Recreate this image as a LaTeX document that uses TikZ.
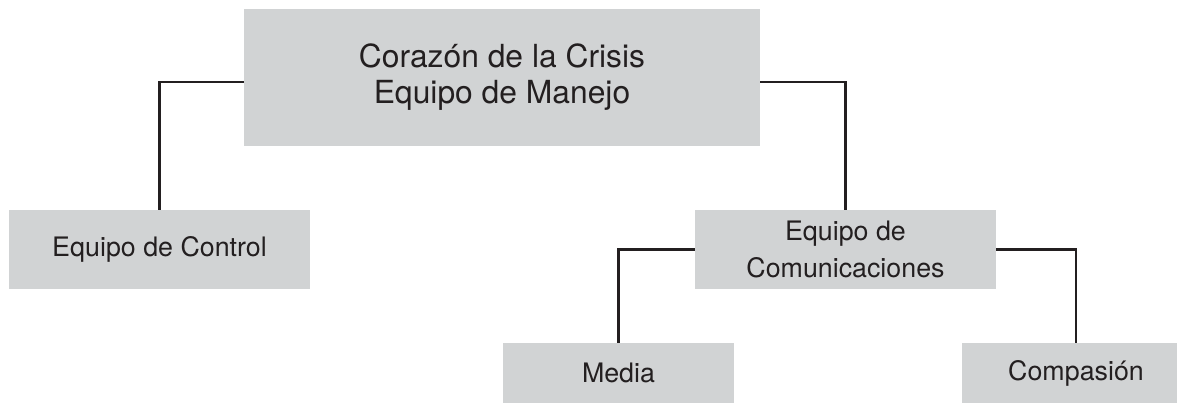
\documentclass[tikz,border=0pt]{standalone}
\usepackage{fontspec}
\setmainfont{TeX Gyre Heros}
\definecolor{boxgray}{HTML}{D1D3D4}
\definecolor{inkgray}{HTML}{231F20}

\begin{document}
\begin{tikzpicture}[
		x=0.5pt, y=-0.5pt,
		teambox/.style={fill=boxgray, draw=none, inner sep=0pt, align=center, text=inkgray},
		conn/.style={draw=inkgray, line width=1.2pt}
	]
	\useasboundingbox (0,0) rectangle (1177,402);

	\node[teambox, minimum width=258pt, minimum height=68.5pt,
		font=\fontsize{15.9}{18}\selectfont] (corazon) at (502,77.5)
		{Coraz\'on de la Crisis\\Equipo de Manejo};

	\node[teambox, minimum width=150.5pt, minimum height=39.5pt,
		font=\fontsize{13.4}{18.5}\selectfont] (control) at (159.5,249.5)
		{Equipo de Control};
	\node[teambox, minimum width=150.5pt, minimum height=39.5pt,
		font=\fontsize{13.4}{18.5}\selectfont] (comunic) at (845.5,249.5)
		{Equipo de\\Comunicaciones};

	\node[teambox, minimum width=115.5pt, minimum height=30pt,
		font=\fontsize{13.4}{18.5}\selectfont] (media) at (618.5,373)
		{Media};
	\node[teambox, minimum width=114pt, minimum height=30pt,
		font=\fontsize{13.4}{18.5}\selectfont] (compasion) at (1076,373)
		{Compasi\'on};

	\draw[conn] ([yshift=-2.25pt]corazon.west) -| (control.north);
	\draw[conn] ([yshift=-2.25pt]corazon.east) -| (comunic.north);
	\draw[conn] (comunic.west) -| (media.north);
	\draw[conn] (comunic.east) -| (compasion.north);
\end{tikzpicture}
\end{document}
